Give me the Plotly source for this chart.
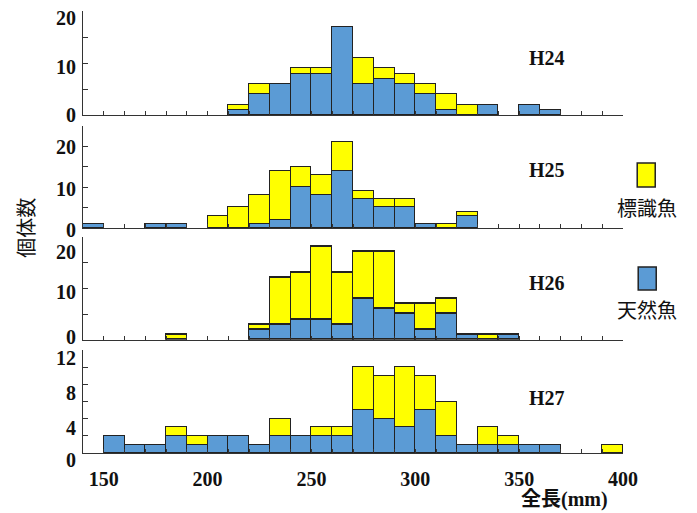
import plotly.graph_objects as go

# ---- data ----
bins = [140, 150, 160, 170, 180, 190, 200, 210, 220, 230, 240, 250, 260,
        270, 280, 290, 300, 310, 320, 330, 340, 350, 360, 370, 380, 390]
years = ["H24", "H25", "H26", "H27"]

h24_wild = [0, 0, 0, 0, 0, 0, 0, 1, 4, 6, 8, 8, 17, 6, 7, 6, 4, 1, 0, 2, 0, 2, 1, 0, 0, 0]
h24_tag  = [0, 0, 0, 0, 0, 0, 0, 1, 2, 0, 1, 1, 0, 5, 2, 2, 2, 3, 2, 0, 0, 0, 0, 0, 0, 0]
h25_wild = [1, 0, 0, 1, 1, 0, 0, 0, 1, 2, 10, 8, 14, 7, 5, 5, 1, 0, 3, 0, 0, 0, 0, 0, 0, 0]
h25_tag  = [0, 0, 0, 0, 0, 0, 3, 5, 7, 12, 5, 5, 7, 2, 2, 2, 0, 1, 1, 0, 0, 0, 0, 0, 0, 0]
h26_wild = [0, 0, 0, 0, 0, 0, 0, 0, 2, 3, 4, 4, 3, 8, 6, 5, 2, 5, 1, 0, 1, 0, 0, 0, 0, 0]
h26_tag  = [0, 0, 0, 0, 1, 0, 0, 0, 1, 9, 9, 14, 10, 9, 11, 2, 5, 3, 0, 1, 0, 0, 0, 0, 0, 0]
h27_wild = [0, 2, 1, 1, 2, 1, 2, 2, 1, 2, 2, 2, 2, 5, 4, 3, 5, 2, 1, 1, 1, 1, 1, 0, 0, 0]
h27_tag  = [0, 0, 0, 0, 1, 1, 0, 0, 0, 2, 0, 1, 1, 5, 5, 7, 4, 4, 0, 2, 1, 0, 0, 0, 0, 1]

wild = [h24_wild, h25_wild, h26_wild, h27_wild]
tag = [h24_tag, h25_tag, h26_tag, h27_tag]
y_max = [20, 25, 20, 12]
y_dtick = [5, 5, 5, 2]
y_labels = [[0, 10, 20], [0, 10, 20], [0, 10, 20], [0, 4, 8, 12]]
x_labels = [150, 200, 250, 300, 350, 400]

tag_name = "標識魚"
wild_name = "天然魚"
x_title = "全長(mm)"
y_title = "個体数"

# ---- style / layout ----
W, H = 697, 513
L, R = 83.3, 622.8
T, B = 10.7, 453.3
panels_px = [(10.7, 115.0), (126.0, 228.0), (236.7, 340.0), (350.0, 453.3)]
label_y_px = [58, 170, 283, 398]
# vertical pixel offsets of the y tick labels (style of the original drawing)
y_label_shift = [[0, -4, -7], [-2, -2, 0], [3, -4, -15], [-7, -9, -9, -8]]

BLUE = "#5B9BD5"
YELLOW = "#FFFF00"
EDGE = "#222222"
AXC = "#333333"
SERIF = "Liberation Serif, DejaVu Serif, serif"
CJK = "Noto Sans CJK JP, sans-serif"
TXT = "#111111"


def py(ypx):  # paper y from pixel y
    return (B - ypx) / (B - T)


def px(xpx):
    return (xpx - L) / (R - L)


def nz(v):
    return [None if a == 0 else a for a in v]


centers = [b + 5 for b in bins]

fig = go.Figure()
layout = dict(
    width=W, height=H,
    margin=dict(l=L, r=W - R, t=T, b=H - B, pad=0, autoexpand=False),
    plot_bgcolor="white", paper_bgcolor="white",
    barmode="stack", bargap=0, showlegend=False,
)
ann = []

for i in range(4):
    xa = "x" if i == 0 else f"x{i+1}"
    ya = "y" if i == 0 else f"y{i+1}"
    for vals, col, nm in ((wild[i], BLUE, wild_name), (tag[i], YELLOW, tag_name)):
        fig.add_trace(go.Bar(
            x=centers, y=nz(vals), width=10, xaxis=xa, yaxis=ya, name=nm,
            marker=dict(color=col, line=dict(color=EDGE, width=1.3)),
        ))
    top, bot = panels_px[i]
    xkey = "xaxis" if i == 0 else f"xaxis{i+1}"
    ykey = "yaxis" if i == 0 else f"yaxis{i+1}"
    yt = list(range(0, y_max[i] + 1, y_dtick[i]))
    layout[xkey] = dict(
        domain=[0, 1], anchor=ya, range=[140, 400], automargin=False,
        showline=True, linecolor=AXC, linewidth=1.3,
        ticks="inside", ticklen=4, tickcolor=AXC, tickwidth=1,
        tickvals=list(range(150, 401, 10)),
        ticktext=[(str(v) if (v in x_labels and i == 3) else "") for v in range(150, 401, 10)],
        tickfont=dict(family=SERIF, size=20, color=TXT, weight="bold"),
        ticklabelstandoff=8,
        showgrid=False, zeroline=False, fixedrange=True,
    )
    layout[ykey] = dict(
        domain=[py(bot), py(top)], anchor=xa, range=[0, y_max[i]], automargin=False,
        showline=True, linecolor=AXC, linewidth=1.3,
        ticks="inside", ticklen=5, tickcolor=AXC, tickwidth=1,
        tickvals=yt, showticklabels=False,
        showgrid=False, zeroline=False, fixedrange=True,
    )
    for v, sh in zip(y_labels[i], y_label_shift[i]):
        ann.append(dict(text=str(v), x=0, xref="paper", xanchor="right", xshift=-5,
                        y=v, yref=ya, yanchor="middle", yshift=sh, showarrow=False,
                        font=dict(family=SERIF, size=20, color=TXT, weight="bold")))

fig.update_layout(**layout)


def label(text, xp, yp, font, **kw):
    return dict(text=text, x=px(xp), y=py(yp), xref="paper", yref="paper",
                xanchor="center", yanchor="middle", showarrow=False, font=font, **kw)


for i, yr in enumerate(years):
    ann.append(label(yr, 547, label_y_px[i], dict(family=SERIF, size=20, color=TXT, weight="bold")))
ann.append(label(x_title, 564, 500, dict(family=SERIF + ", " + CJK, size=20, color=TXT, weight="bold")))
ann.append(label(y_title, 25, 228, dict(family=CJK, size=20, color=TXT), textangle=-90))
ann.append(label(tag_name, 647, 207, dict(family=CJK, size=20, color=TXT)))
ann.append(label(wild_name, 647, 310, dict(family=CJK, size=20, color=TXT)))
fig.update_layout(annotations=ann)

shapes = [
    dict(type="rect", xref="paper", yref="paper", x0=px(637), x1=px(655), y0=py(187), y1=py(163),
         fillcolor=YELLOW, line=dict(color=EDGE, width=1.5)),
    dict(type="rect", xref="paper", yref="paper", x0=px(638), x1=px(656), y0=py(290), y1=py(267),
         fillcolor=BLUE, line=dict(color=EDGE, width=1.5)),
]
fig.update_layout(shapes=shapes)

fig.write_html("out.html", config={"displayModeBar": False},
               post_script="document.body.style.margin='0';document.body.style.overflow='hidden';")
